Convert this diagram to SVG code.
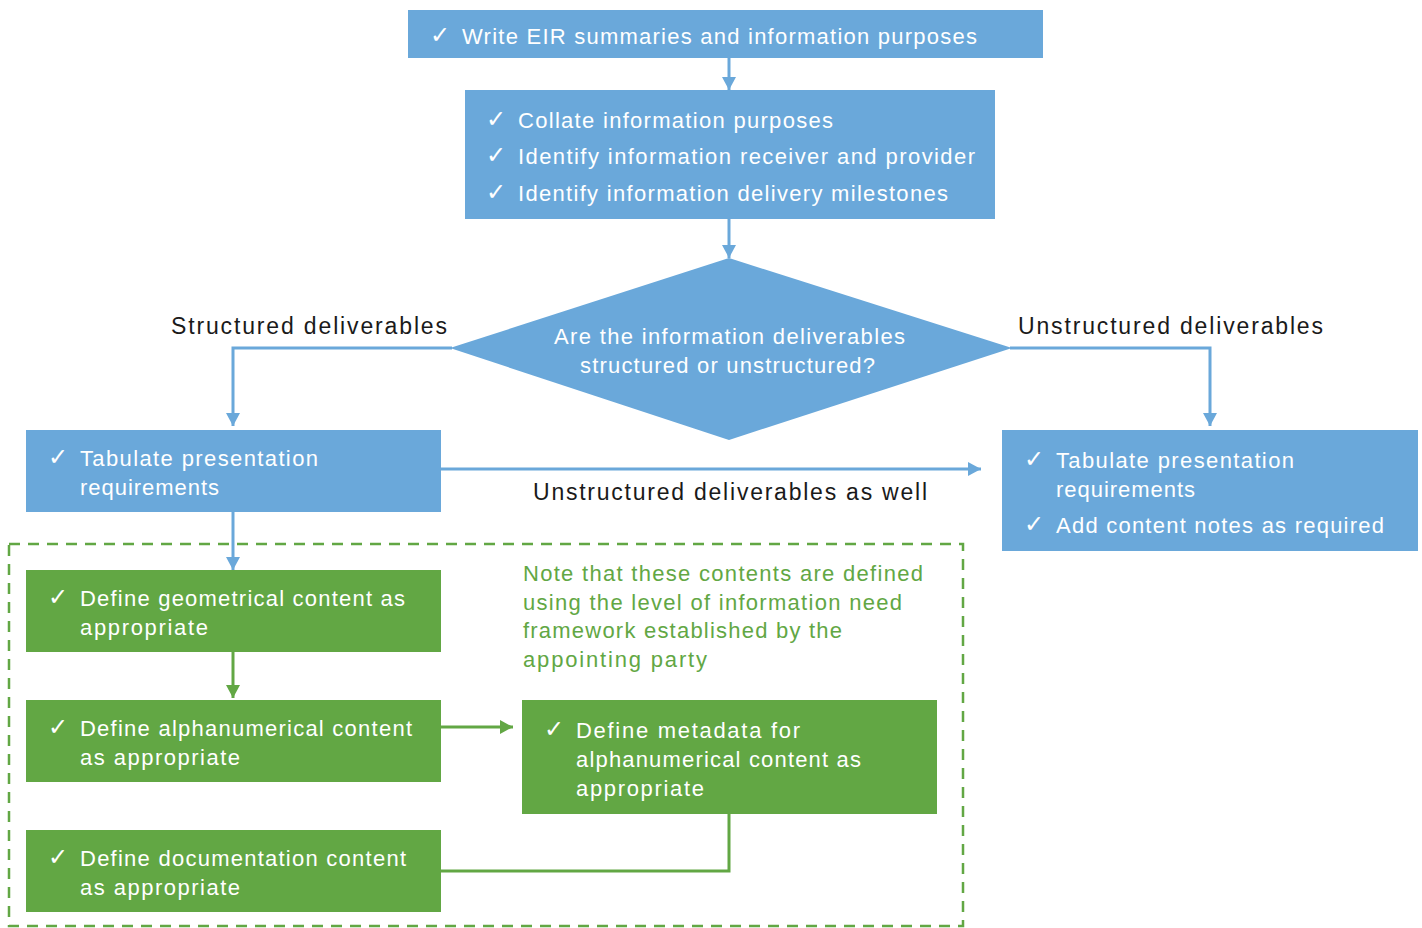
<svg xmlns="http://www.w3.org/2000/svg" width="1422" height="928" viewBox="0 0 1422 928">
<style>
.blue{fill:#6aa8da}
.green{fill:#62a744}
.wt{fill:#ffffff;font-family:"Liberation Sans",Arial,sans-serif;font-size:22px}
.ck{fill:#ffffff;font-family:"DejaVu Sans",sans-serif;font-size:24px}
.lbl{fill:#1a1a1a;font-family:"Liberation Sans",Arial,sans-serif;font-size:23px}
.note{fill:#62a744;font-family:"Liberation Sans",Arial,sans-serif;font-size:22px}
.cb{fill:none;stroke:#6aa8da;stroke-width:3}
.cg{fill:none;stroke:#62a744;stroke-width:3}
</style>
<defs>
<marker id="ab" markerUnits="userSpaceOnUse" markerWidth="16" markerHeight="16" refX="13" refY="8" orient="auto"><path d="M0,1 L13,8 L0,15 z" fill="#6aa8da"/></marker>
<marker id="ag" markerUnits="userSpaceOnUse" markerWidth="16" markerHeight="16" refX="13" refY="8" orient="auto"><path d="M0,1 L13,8 L0,15 z" fill="#62a744"/></marker>
</defs>
<rect width="1422" height="928" fill="#ffffff"/>
<g id="group-frame">
<rect x="9" y="544" width="954" height="382" fill="none" stroke="#62a744" stroke-width="2.5" stroke-dasharray="11,8"/>
</g>
<g id="connectors">
<path class="cb" d="M729,58 L729,90" marker-end="url(#ab)"/>
<path class="cb" d="M729,219 L729,258" marker-end="url(#ab)"/>
<path class="cb" d="M452,348 L233,348 L233,426" marker-end="url(#ab)"/>
<path class="cb" d="M1010,348 L1210,348 L1210,426" marker-end="url(#ab)"/>
<path class="cb" d="M441,469 L981,469" marker-end="url(#ab)"/>
<path class="cb" d="M233,512 L233,570" marker-end="url(#ab)"/>
<path class="cg" d="M233,652 L233,698" marker-end="url(#ag)"/>
<path class="cg" d="M441,727 L513,727" marker-end="url(#ag)"/>
<path class="cg" d="M729,814 L729,871 L441,871"/>
</g>
<g id="node-eir">
<rect class="blue" x="408" y="10" width="635" height="48"/>
<text class="ck" x="430" y="43">✓</text>
<text class="wt" x="462" y="44" textLength="515" lengthAdjust="spacing">Write EIR summaries and information purposes</text>
</g>
<g id="node-collate">
<rect class="blue" x="465" y="90" width="530" height="129"/>
<text class="ck" x="486" y="127">✓</text>
<text class="wt" x="518" y="128" textLength="315" lengthAdjust="spacing">Collate information purposes</text>
<text class="ck" x="486" y="163">✓</text>
<text class="wt" x="518" y="164" textLength="457" lengthAdjust="spacing">Identify information receiver and provider</text>
<text class="ck" x="486" y="200">✓</text>
<text class="wt" x="518" y="201" textLength="430" lengthAdjust="spacing">Identify information delivery milestones</text>
</g>
<g id="node-decision">
<polygon class="blue" points="729,258 1012,348 729,440 450,348"/>
<text class="wt" x="554" y="344" textLength="351" lengthAdjust="spacing">Are the information deliverables</text>
<text class="wt" x="580" y="373" textLength="295" lengthAdjust="spacing">structured or unstructured?</text>
</g>
<g id="labels">
<text class="lbl" x="171" y="334" textLength="276" lengthAdjust="spacing">Structured deliverables</text>
<text class="lbl" x="1018" y="334" textLength="305" lengthAdjust="spacing">Unstructured deliverables</text>
<text class="lbl" x="533" y="500" textLength="394" lengthAdjust="spacing">Unstructured deliverables as well</text>
</g>
<g id="node-tab-left">
<rect class="blue" x="26" y="430" width="415" height="82"/>
<text class="ck" x="48" y="465">✓</text>
<text class="wt" x="80" y="466" textLength="238" lengthAdjust="spacing">Tabulate presentation</text>
<text class="wt" x="80" y="495" textLength="139" lengthAdjust="spacing">requirements</text>
</g>
<g id="node-tab-right">
<rect class="blue" x="1002" y="430" width="416" height="121"/>
<text class="ck" x="1024" y="467">✓</text>
<text class="wt" x="1056" y="468" textLength="238" lengthAdjust="spacing">Tabulate presentation</text>
<text class="wt" x="1056" y="497" textLength="139" lengthAdjust="spacing">requirements</text>
<text class="ck" x="1024" y="532">✓</text>
<text class="wt" x="1056" y="533" textLength="328" lengthAdjust="spacing">Add content notes as required</text>
</g>
<g id="node-note">
<text class="note" x="523" y="581" textLength="400" lengthAdjust="spacing">Note that these contents are defined</text>
<text class="note" x="523" y="610" textLength="379" lengthAdjust="spacing">using the level of information need</text>
<text class="note" x="523" y="638" textLength="319" lengthAdjust="spacing">framework established by the</text>
<text class="note" x="523" y="667" textLength="184" lengthAdjust="spacing">appointing party</text>
</g>
<g id="node-geom">
<rect class="green" x="26" y="570" width="415" height="82"/>
<text class="ck" x="48" y="605">✓</text>
<text class="wt" x="80" y="606" textLength="325" lengthAdjust="spacing">Define geometrical content as</text>
<text class="wt" x="80" y="635" textLength="128" lengthAdjust="spacing">appropriate</text>
</g>
<g id="node-alpha">
<rect class="green" x="26" y="700" width="415" height="82"/>
<text class="ck" x="48" y="735">✓</text>
<text class="wt" x="80" y="736" textLength="332" lengthAdjust="spacing">Define alphanumerical content</text>
<text class="wt" x="80" y="765" textLength="160" lengthAdjust="spacing">as appropriate</text>
</g>
<g id="node-meta">
<rect class="green" x="522" y="700" width="415" height="114"/>
<text class="ck" x="544" y="737">✓</text>
<text class="wt" x="576" y="738" textLength="224" lengthAdjust="spacing">Define metadata for</text>
<text class="wt" x="576" y="767" textLength="285" lengthAdjust="spacing">alphanumerical content as</text>
<text class="wt" x="576" y="796" textLength="128" lengthAdjust="spacing">appropriate</text>
</g>
<g id="node-doc">
<rect class="green" x="26" y="830" width="415" height="82"/>
<text class="ck" x="48" y="865">✓</text>
<text class="wt" x="80" y="866" textLength="326" lengthAdjust="spacing">Define documentation content</text>
<text class="wt" x="80" y="895" textLength="160" lengthAdjust="spacing">as appropriate</text>
</g>
</svg>
